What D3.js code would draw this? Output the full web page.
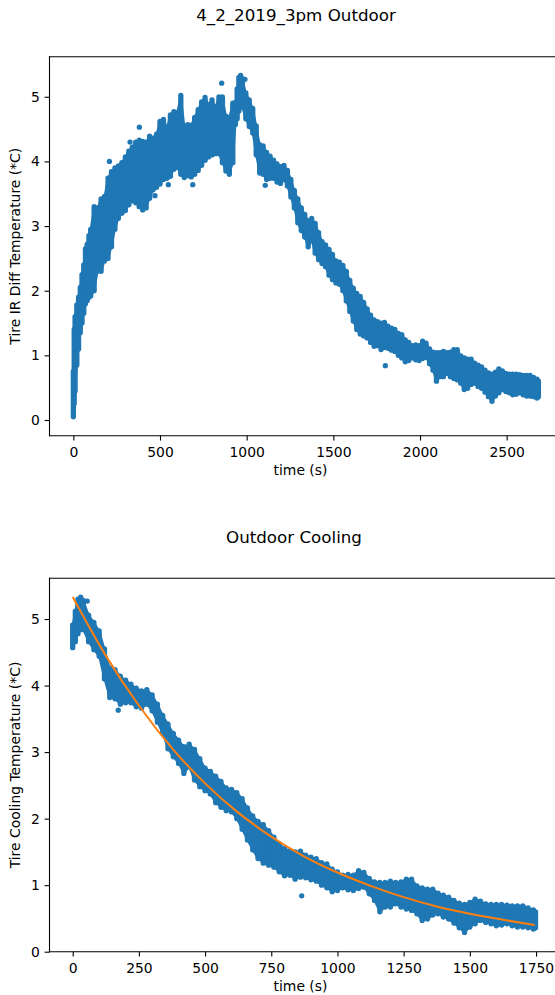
<!DOCTYPE html>
<html>
<head>
<meta charset="utf-8">
<script src="https://cdn.jsdelivr.net/npm/d3@7"></script>
<style>
  body { margin: 0; background: #fff; }
  svg text { font-family: "DejaVu Sans", sans-serif; fill: #000; }
</style>
</head>
<body>
<svg id="fig" width="555" height="995"></svg>
<script>
// ---- Recorded tire IR difference temperature (°C) ----
// Each sample window: time (s) with the lowest and highest reading in that window.
const sampleTime = [
  0, 5, 10, 20, 30, 40, 50, 60, 70, 80, 90, 100, 120, 140, 160, 180, 200, 220, 240, 260,
  280, 300, 320, 340, 360, 380, 400, 420, 440, 460, 480, 500, 520, 540, 560, 580, 600, 620, 640, 660,
  680, 700, 720, 740, 760, 780, 800, 820, 840, 860, 880, 900, 920,
  935, 945, 955, 965,
  975, 995, 1015, 1035, 1055, 1075, 1095, 1115, 1135, 1155, 1175, 1195, 1215, 1235, 1255, 1275, 1295,
  1315, 1335, 1355, 1375, 1395, 1415, 1435, 1455, 1475, 1495, 1515, 1535, 1555, 1575, 1595, 1615,
  1635, 1655, 1675, 1695, 1715, 1735, 1755, 1775, 1795, 1815, 1835, 1855, 1875, 1895, 1915, 1935,
  1955, 1975, 1995, 2015, 2035, 2055, 2075, 2095, 2115, 2135, 2155, 2175, 2195, 2215, 2235, 2255,
  2275, 2295, 2315, 2335, 2355, 2375, 2395, 2415, 2435, 2455, 2475, 2495, 2515, 2535, 2555, 2575,
  2595, 2615, 2635, 2655, 2675, 2683
];
const tempLow = [
  0.05, 0.25, 0.45, 0.85, 1.10, 1.35, 1.50, 1.65, 1.80, 1.85, 1.90, 1.92, 2.00, 2.30, 2.30, 2.46, 2.50, 2.68, 2.95, 3.12,
  3.20, 3.24, 3.33, 3.39, 3.36, 3.30, 3.25, 3.28, 3.43, 3.56, 3.60, 3.65, 3.72, 3.74, 3.77, 3.88, 3.91, 3.80, 3.75, 3.78,
  3.76, 3.80, 3.86, 3.94, 4.02, 4.07, 4.10, 4.12, 4.12, 3.98, 3.85, 3.80, 3.98,
  4.57, 4.66, 4.78, 4.84,
  4.84, 4.66, 4.54, 4.44, 4.10, 3.82, 3.80, 3.72, 3.74, 3.74, 3.68, 3.66, 3.72, 3.62, 3.45, 3.28, 3.05,
  2.93, 2.83, 2.68, 2.78, 2.58, 2.48, 2.42, 2.37, 2.24, 2.17, 2.12, 2.10, 2.00, 1.84, 1.68, 1.53,
  1.40, 1.33, 1.30, 1.27, 1.20, 1.14, 1.15, 1.09, 1.12, 1.11, 1.08, 1.06, 1.00, 0.96, 0.90, 0.92,
  0.96, 0.93, 0.92, 0.95, 0.97, 0.87, 0.77, 0.60, 0.67, 0.67, 0.72, 0.67, 0.64, 0.62, 0.57, 0.47,
  0.49, 0.55, 0.57, 0.52, 0.49, 0.43, 0.36, 0.29, 0.37, 0.42, 0.47, 0.44, 0.42, 0.39, 0.40, 0.42,
  0.39, 0.37, 0.37, 0.36, 0.34, 0.36
];
const tempHigh = [
  0.75, 1.40, 1.60, 1.78, 1.90, 2.05, 2.25, 2.40, 2.65, 2.72, 2.85, 2.95, 3.30, 3.28, 3.42, 3.46, 3.74, 3.84, 3.90, 3.93,
  3.98, 4.07, 4.16, 4.22, 4.30, 4.33, 4.31, 4.30, 4.39, 4.36, 4.42, 4.62, 4.65, 4.52, 4.72, 4.77, 4.76, 5.02, 4.55, 4.57,
  4.56, 4.68, 4.80, 4.92, 4.99, 4.88, 4.95, 4.84, 5.00, 5.00, 4.70, 4.68, 4.90,
  4.91, 5.12, 5.30, 5.33,
  5.28, 5.06, 4.95, 4.82, 4.55, 4.26, 4.24, 4.14, 4.08, 4.02, 3.96, 3.92, 3.94, 3.86, 3.72, 3.55, 3.42,
  3.28, 3.18, 3.08, 3.12, 3.04, 2.90, 2.76, 2.71, 2.64, 2.56, 2.46, 2.44, 2.39, 2.30, 2.16, 2.04,
  1.96, 1.91, 1.82, 1.72, 1.62, 1.55, 1.52, 1.50, 1.51, 1.45, 1.42, 1.40, 1.34, 1.32, 1.24, 1.20,
  1.15, 1.16, 1.15, 1.22, 1.19, 1.10, 1.05, 1.04, 1.04, 1.06, 1.04, 1.05, 1.09, 1.09, 0.99, 0.96,
  0.94, 0.94, 0.88, 0.85, 0.82, 0.77, 0.73, 0.71, 0.74, 0.79, 0.76, 0.72, 0.71, 0.71, 0.71, 0.70,
  0.69, 0.69, 0.69, 0.66, 0.63, 0.60
];
// Isolated readings that sit away from the main trace
const strayTime = [208, 327, 381, 471, 548, 689, 856, 990, 1107, 1800];
const strayTemp = [4.00, 4.30, 4.53, 3.47, 3.64, 3.64, 5.21, 5.27, 3.63, 0.84];

// Cooling phase begins at the temperature peak
const coolingStart = 935;

// Fitted cooling curve (time since coolingStart, °C)
const fitTime = [0, 125, 250, 375, 500, 625, 750, 875, 1000, 1125, 1250, 1375, 1500, 1625, 1745];
const fitTemp = [5.33, 4.45, 3.70, 3.06, 2.53, 2.09, 1.73, 1.43, 1.19, 0.99, 0.82, 0.68, 0.57, 0.48, 0.40];

// Axis ticks
const heatTicksX = [0, 500, 1000, 1500, 2000, 2500];
const heatTicksY = [0, 1, 2, 3, 4, 5];
const coolTicksX = [0, 250, 500, 750, 1000, 1250, 1500, 1750];
const coolTicksY = [0, 1, 2, 3, 4, 5];

const BLUE = "#1f77b4", ORANGE = "#ff7f0e";
const DOT = 5.3;          // marker diameter in px
const svg = d3.select("#fig");

function drawPanel(cfg) {
  const { left, right, top, bottom, xDom, yDom, title, titleX, titleY,
          yLabel, xTicks, yTicks, id } = cfg;
  const x = d3.scaleLinear().domain(xDom).range([left, right]);
  const y = d3.scaleLinear().domain(yDom).range([bottom, top]);
  const g = svg.append("g");

  g.append("clipPath").attr("id", id).append("rect")
    .attr("x", left).attr("y", top).attr("width", right - left).attr("height", bottom - top);
  const plot = g.append("g").attr("clip-path", `url(#${id})`);

  // solid body of the trace between consecutive windows
  plot.append("path").datum(cfg.windows)
    .attr("fill", BLUE).attr("stroke", BLUE).attr("stroke-width", 2).attr("stroke-linejoin", "round")
    .attr("d", d3.area().x(d => x(d.t)).y0(d => y(d.lo)).y1(d => y(d.hi)));

  // each sample window drawn as a column of overlapping dots
  plot.append("g").selectAll("line").data(cfg.windows).join("line")
    .attr("x1", d => x(d.t)).attr("x2", d => x(d.t))
    .attr("y1", d => y(d.lo)).attr("y2", d => y(d.hi))
    .attr("stroke", BLUE).attr("stroke-width", DOT).attr("stroke-linecap", "round");
  plot.append("g").selectAll("circle").data(cfg.strays).join("circle")
    .attr("cx", d => x(d.t)).attr("cy", d => y(d.v)).attr("r", DOT / 2).attr("fill", BLUE);

  if (cfg.fit) {
    plot.append("path").datum(cfg.fit)
      .attr("fill", "none").attr("stroke", ORANGE).attr("stroke-width", 2)
      .attr("d", d3.line().x(d => x(d.t)).y(d => y(d.v)).curve(d3.curveMonotoneX));
  }

  // axes
  const ax = g.append("g").attr("transform", `translate(0,${bottom})`)
    .call(d3.axisBottom(x).tickValues(xTicks).tickSize(4.9).tickPadding(6.2).tickSizeOuter(0)
      .tickFormat(d3.format("d")));
  const ay = g.append("g").attr("transform", `translate(${left},0)`)
    .call(d3.axisLeft(y).tickValues(yTicks).tickSize(4.9).tickPadding(4.8).tickSizeOuter(0)
      .tickFormat(d3.format("d")));
  [ax, ay].forEach(a => {
    a.select(".domain").remove();
    a.selectAll(".tick line").attr("stroke", "#000").attr("stroke-width", 1.1);
    a.selectAll(".tick text").attr("font-size", 13.9).attr("fill", "#000");
  });

  // spines
  const spine = (x1, y1, x2, y2) => g.append("line")
    .attr("x1", x1).attr("y1", y1).attr("x2", x2).attr("y2", y2)
    .attr("stroke", "#000").attr("stroke-width", 1.1).attr("stroke-linecap", "square");
  spine(left, top, left, bottom);
  spine(left, bottom, right, bottom);
  spine(left, top, right, top);
  spine(right, top, right, bottom);

  g.append("text").attr("x", titleX).attr("y", titleY).attr("text-anchor", "middle")
    .attr("font-size", 16.7).text(title);
  g.append("text").attr("x", 300.5).attr("y", bottom + 38.8).attr("text-anchor", "middle")
    .attr("font-size", 13.9).text("time (s)");
  g.append("text").attr("transform", `translate(19.8,${(top + bottom) / 2}) rotate(-90)`)
    .attr("text-anchor", "middle").attr("font-size", 13.9).text(yLabel);
}

const allWindows = sampleTime.map((t, i) => ({ t, lo: tempLow[i], hi: tempHigh[i] }));
const allStrays = strayTime.map((t, i) => ({ t, v: strayTemp[i] }));

drawPanel({
  id: "clipHeat", left: 49.5, right: 562.3, top: 56.7, bottom: 435.7,
  xDom: [-137.6, 2821], yDom: [-0.243, 5.62],
  title: "4_2_2019_3pm Outdoor", titleX: 296, titleY: 21.3,
  yLabel: "Tire IR Diff Temperature (*C)",
  xTicks: heatTicksX, yTicks: heatTicksY,
  windows: allWindows, strays: allStrays
});

drawPanel({
  id: "clipCool", left: 49.5, right: 558.8, top: 578.3, bottom: 951.7,
  xDom: [-87.6, 1836], yDom: [0, 5.612],
  title: "Outdoor Cooling", titleX: 294, titleY: 543,
  yLabel: "Tire Cooling Temperature (*C)",
  xTicks: coolTicksX, yTicks: coolTicksY,
  windows: allWindows.filter(d => d.t >= coolingStart).map(d => ({ t: d.t - coolingStart, lo: d.lo, hi: d.hi })),
  strays: allStrays.filter(d => d.t >= coolingStart).map(d => ({ t: d.t - coolingStart, v: d.v })),
  fit: fitTime.map((t, i) => ({ t, v: fitTemp[i] }))
});
</script>
</body>
</html>
